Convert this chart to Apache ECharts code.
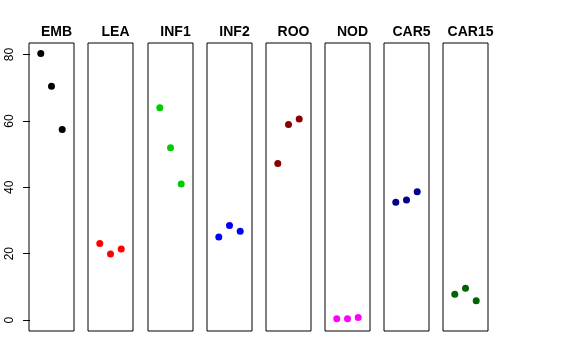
<!DOCTYPE html>
<html><head><meta charset="utf-8">
<script src="https://cdn.jsdelivr.net/npm/echarts@6/dist/echarts.min.js"></script>
<style>html,body{margin:0;padding:0;background:#fff}#c{width:576px;height:360px}</style>
</head><body><div id="c"></div>
<script>
var panels = ["EMB","LEA","INF1","INF2","ROO","NOD","CAR5","CAR15"];
var xPos = [1, 2, 3];
var EMB = [80.3, 70.5, 57.4];
var LEA = [23.1, 19.9, 21.4];
var INF1 = [64.0, 51.9, 41.0];
var INF2 = [25.0, 28.5, 26.8];
var ROO = [47.2, 58.9, 60.6];
var NOD = [0.4, 0.4, 0.8];
var CAR5 = [35.5, 36.2, 38.7];
var CAR15 = [7.8, 9.6, 5.8];
var yTicks = [0, 20, 40, 60, 80];
var values = [EMB, LEA, INF1, INF2, ROO, NOD, CAR5, CAR15];
var colors = ["#000000","#FF0000","#00CD00","#0000FF","#8B0000","#FF00FF","#00008B","#006400"];

var font = "'Liberation Sans', Arial, Helvetica, sans-serif";
var grids = [], xAxes = [], yAxes = [], series = [], titles = [];
for (var i = 0; i < panels.length; i++) {
  var left = Math.round(29.3 + 59.1 * i);
  grids.push({left: left, top: 43, width: 45, height: 288, show: true, borderColor: '#000', borderWidth: 1, backgroundColor: 'transparent'});
  xAxes.push({type: 'value', gridIndex: i, min: -0.1, max: 4.1, show: false});
  var ya = {type: 'value', gridIndex: i, min: -3.3, max: 83.5, splitLine: {show: false}};
  if (i === 0) {
    ya.axisLine = {show: false};
    ya.axisTick = {show: true, length: 7, lineStyle: {color: '#000', width: 1}, customValues: yTicks};
    ya.axisLabel = {show: true, rotate: 90, margin: 13, color: '#000', fontSize: 12, fontFamily: font, customValues: yTicks};
  } else {
    ya.axisLine = {show: false}; ya.axisTick = {show: false}; ya.axisLabel = {show: false};
  }
  yAxes.push(ya);
  series.push({
    type: 'scatter', xAxisIndex: i, yAxisIndex: i,
    data: xPos.map(function (x, k) { return [x, values[i][k]]; }),
    symbol: 'circle', symbolSize: 7,
    itemStyle: {color: colors[i], opacity: 1},
    silent: true, animation: false
  });
  titles.push({text: panels[i], left: left + 22.5, top: 20, textAlign: 'center',
    textStyle: {fontSize: 14, fontWeight: 'bold', color: '#000', fontFamily: font}});
}
var chart = echarts.init(document.getElementById('c'), null, {renderer: 'canvas'});
chart.setOption({animation: false, backgroundColor: '#fff', title: titles, grid: grids, xAxis: xAxes, yAxis: yAxes, series: series});
</script></body></html>
